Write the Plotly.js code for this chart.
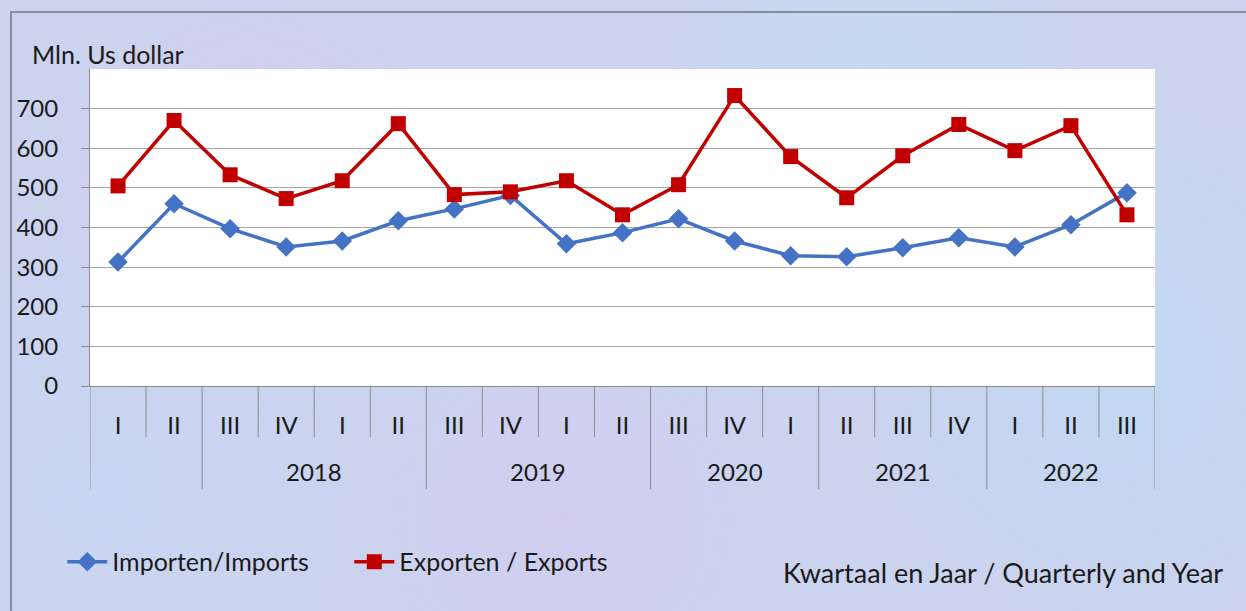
<!DOCTYPE html>
<html>
<head>
<meta charset="utf-8">
<script src="https://cdn.plot.ly/plotly-3.0.1.min.js"></script>
<style>
  html, body { margin: 0; padding: 0; }
  body {
    width: 1246px; height: 611px; overflow: hidden;
    background-color: #cbd3ef;
    background-image:
      radial-gradient(circle at 20% 30%, rgba(225,200,235,0.55) 0, rgba(225,200,235,0) 18%),
      radial-gradient(circle at 70% 15%, rgba(190,225,245,0.6) 0, rgba(190,225,245,0) 20%),
      radial-gradient(circle at 45% 85%, rgba(215,200,240,0.55) 0, rgba(215,200,240,0) 22%),
      radial-gradient(circle at 90% 60%, rgba(185,220,245,0.6) 0, rgba(185,220,245,0) 22%),
      radial-gradient(circle at 8% 80%, rgba(200,215,245,0.6) 0, rgba(200,215,245,0) 20%);
  }
  #frame { position: absolute; left: 10px; top: 11px; right: -5px; bottom: -5px;
           border-left: 2px solid #8a8f9e; border-top: 2px solid #8a8f9e; }
  #chart { position: absolute; left: 0; top: 0; width: 1246px; height: 611px; }
</style>
</head>
<body>
<div id="frame"></div>
<div id="chart"></div>
<script>
// Quarter tick labels and the year group labels (as grouped in the original)
const quarters = ["I","II","III","IV","I","II","III","IV","I","II","III","IV","I","II","III","IV","I","II","III"];
const yearLabels = ["", "2018", "2019", "2020", "2021", "2022"];
const yearGroupStart = [0, 2, 6, 10, 13, 16];   // first category index of each group
const yearGroupEnd   = [1, 5, 9, 12, 15, 18];   // last category index of each group

// Values in million US dollar
const imports = [313, 460, 397, 351, 366, 417, 447, 481, 359, 387, 422, 366, 329, 326, 349, 374, 351, 407, 488];
const exports = [505, 670, 533, 473, 518, 662, 483, 490, 518, 432, 508, 733, 579, 475, 581, 660, 594, 657, 432];

const idx = quarters.map((q, i) => i);
const FONT = "Lato, 'Open Sans', sans-serif";
const gray = "#8c8c8c";

const traces = [
  { x: idx, y: imports, type: "scatter", mode: "lines+markers", name: "Importen/Imports",
    line: { color: "#4472C4", width: 3.5 },
    marker: { symbol: "diamond", size: 15, color: "#4472C4" } },
  { x: idx, y: exports, type: "scatter", mode: "lines+markers", name: "Exporten / Exports",
    line: { color: "#C00000", width: 3.5 },
    marker: { symbol: "square", size: 15, color: "#C00000" } }
];

// separators under the axis
const shapes = [];
const longBounds = new Set();
yearGroupStart.forEach(s => longBounds.add(s));
longBounds.add(quarters.length);
for (let k = 0; k <= quarters.length; k++) {
  const isLong = longBounds.has(k);
  shapes.push({ type: "line", xref: "x", yref: "paper",
    x0: k - 0.5, x1: k - 0.5, y0: 0, y1: isLong ? -0.325 : -0.161,
    line: { color: gray, width: 1 } });
}

const annotations = [
  { text: "Mln. Us dollar", xref: "paper", yref: "paper", x: -0.0563, y: 1.047,
    xanchor: "left", yanchor: "middle", showarrow: false, font: { size: 25, color: "#1a1a1a", family: FONT } },
  { text: "Kwartaal en Jaar / Quarterly and Year", xref: "paper", yref: "paper", x: 1.0657, y: -0.587,
    xanchor: "right", yanchor: "middle", showarrow: false, font: { size: 27, color: "#1a1a1a", family: FONT } }
];
yearLabels.forEach((lab, g) => {
  if (!lab) return;
  annotations.push({ text: lab, xref: "x", yref: "paper",
    x: (yearGroupStart[g] + yearGroupEnd[g]) / 2, y: -0.271,
    xanchor: "center", yanchor: "middle", showarrow: false,
    font: { size: 24, color: "#1a1a1a", family: FONT } });
});

const layout = {
  width: 1246, height: 611,
  margin: { l: 90, r: 91, t: 69, b: 225 },
  paper_bgcolor: "rgba(0,0,0,0)",
  plot_bgcolor: "#ffffff",
  font: { family: FONT, size: 24, color: "#1a1a1a" },
  showlegend: true,
  legend: { orientation: "h", x: -0.026, y: -0.555, xanchor: "left", yanchor: "middle",
    bgcolor: "rgba(0,0,0,0)", font: { size: 25, family: FONT }, itemwidth: 40,
    entrywidth: 232, entrywidthmode: "pixels" },
  xaxis: { range: [-0.5, quarters.length - 0.5], tickmode: "array", tickvals: idx, ticktext: quarters,
    showgrid: false, zeroline: false, showline: true, linecolor: gray, linewidth: 1,
    ticks: "", ticklabelstandoff: 18, tickfont: { size: 24, family: FONT }, fixedrange: true },
  yaxis: { range: [0, 800], tickmode: "array", tickvals: [0,100,200,300,400,500,600,700],
    showgrid: true, gridcolor: "#a6a6a6", gridwidth: 1, zeroline: false,
    showline: true, linecolor: gray, linewidth: 1, ticks: "outside", ticklen: 8, tickcolor: gray,
    ticklabelstandoff: 18, tickfont: { size: 24, family: FONT }, fixedrange: true },
  shapes: shapes,
  annotations: annotations
};

Plotly.newPlot("chart", traces, layout, { displayModeBar: false, staticPlot: true });
</script>
</body>
</html>
